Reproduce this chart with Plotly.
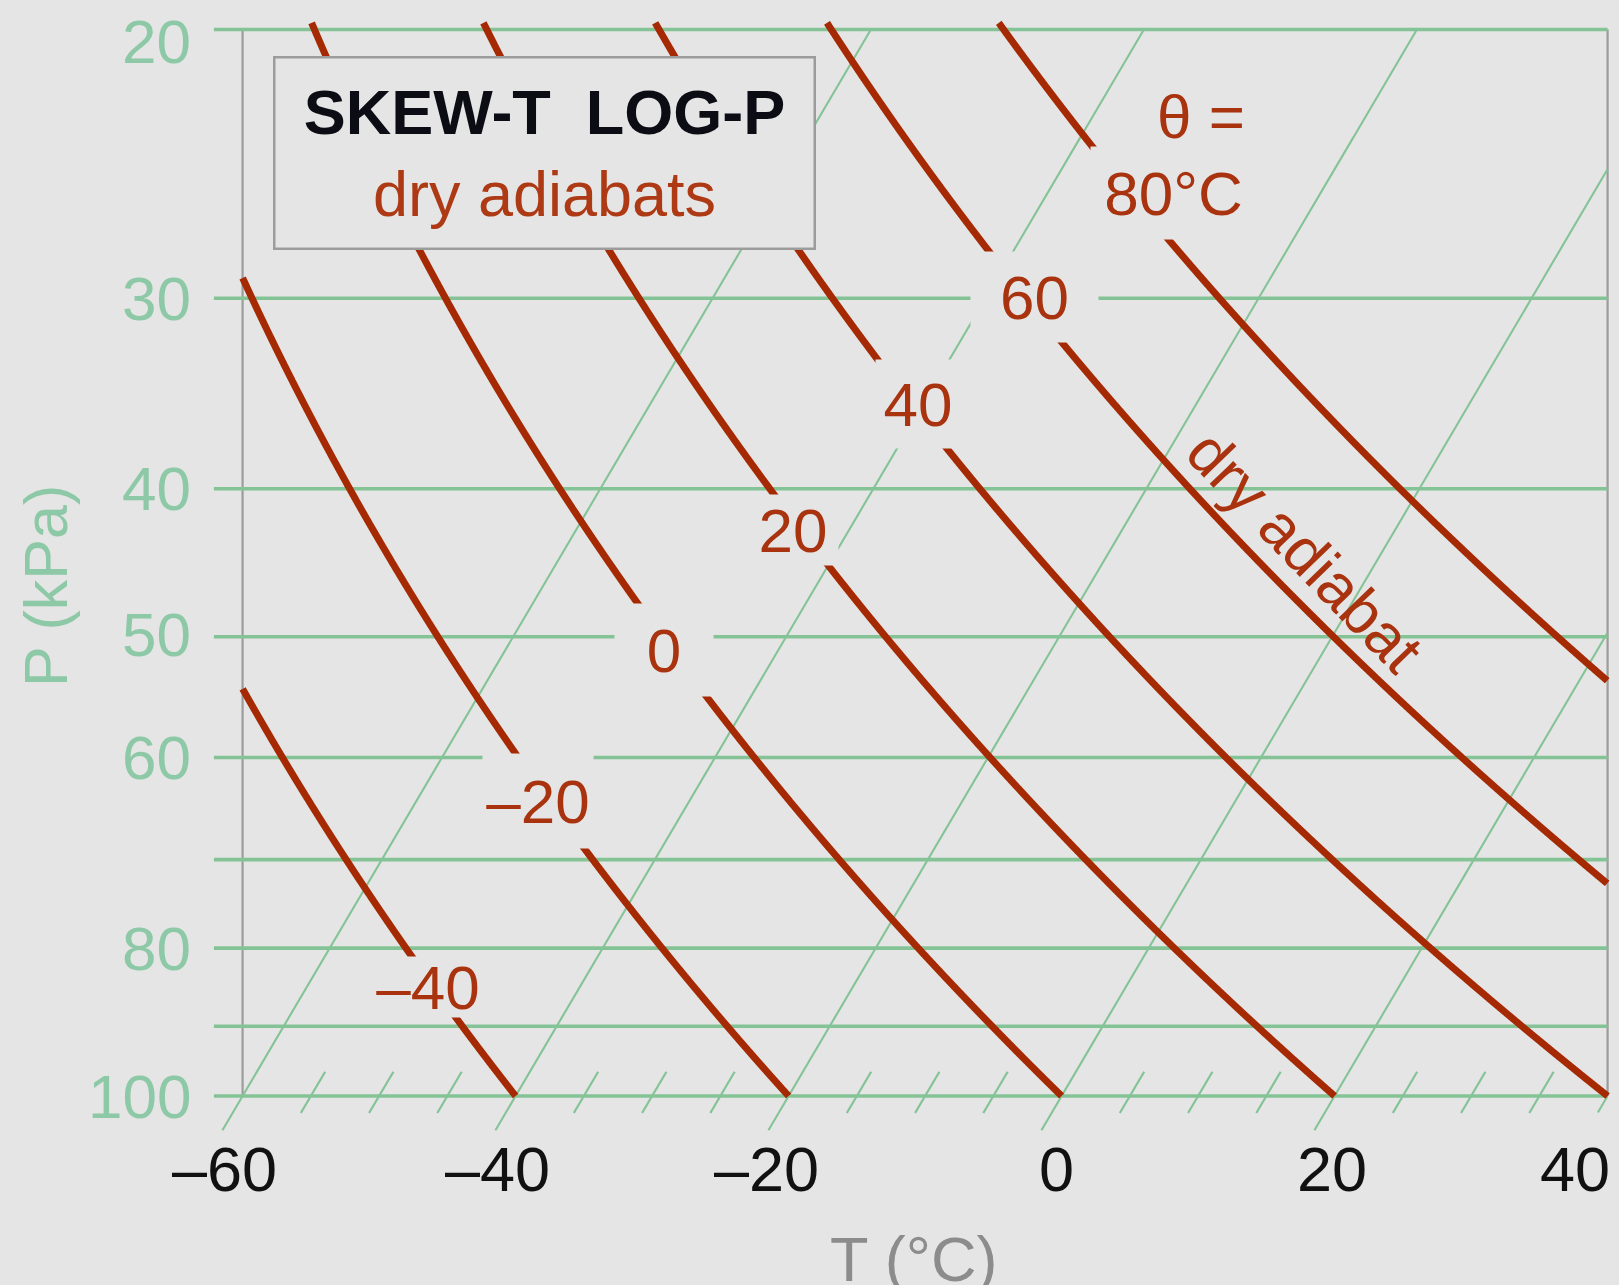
import numpy as np
import plotly.graph_objects as go

# ---------------- data ----------------
theta_C = [-40, -20, 0, 20, 40, 60, 80]                 # dry adiabats, potential temperature (°C)
label_theta = [-40, -20, 0, 20, 40, 60]                 # adiabats carrying an inline label
label_P = [84.3, 64.1, 51.0, 42.3, 35.2, 29.95]         # pressure (kPa) where the label sits
label_text = ["\u201340", "\u201320", "0", "20", "40", "60"]
isotherm_T = [-60, -40, -20, 0, 20, 40]                 # major isotherms (°C)
isotherm_base_P = [105.3, 105.3, 105.3, 105.3, 105.3, 102.6]
minor_T = [-55, -50, -45, -35, -30, -25, -15, -10, -5, 5, 10, 15, 25, 30, 35]
isobar_P = [20, 30, 40, 50, 60, 70, 80, 90, 100]        # kPa
P_ticks = [20, 30, 40, 50, 60, 80, 100]
P_tick_text = ["20", "30", "40", "50", "60", "80", "100"]
T_ticks = [-60, -40, -20, 0, 20, 40]
T_tick_text = ["\u201360", "\u201340", "\u201320", "0", "20", "40"]

# ---------------- diagram constants ----------------
P_TOP, P_BOT = 20.0, 100.0
T_LEFT, T_RIGHT = -60.0, 40.0
SKEW = 28.6          # °C of horizontal shift per unit ln(100/P)
KAPPA = 0.286
MINOR_P = (96.4, 102.6)

# ---------------- styles ----------------
BG = "#e5e5e5"
GREEN = "#84c396"
GREEN_TXT = "#8dc9a6"
BROWN = "#a52a04"
BROWN_TXT = "#a9330f"
FRAME = "#9c9c9c"
FONT = "Liberation Sans, Arial, Helvetica, sans-serif"
FS = 62

label_box_w = [116, 110, 98, 90, 84, 127]
label_box_h = [60, 94, 92, 70, 88, 90]
label_dx = [-3, -12, -7, -5, 6, 9]
label_dy = [-4, 0, 0, -4, 0, 0]
tick_xshift = [-18, -18, -22, -5, -3, -33]
ptick_yshift = [-12, 0, 0, 2, 0, 0, 0]


def skew_x(T, P):
    return np.asarray(T, dtype=float) + SKEW * np.log(100.0 / np.asarray(P, dtype=float))


def adiabat_T(theta, P):
    return (theta + 273.15) * (np.asarray(P, dtype=float) / 100.0) ** KAPPA - 273.15


fig = go.Figure()

# frame
for Tf in (T_LEFT, T_RIGHT):
    fig.add_trace(go.Scatter(x=[Tf, Tf], y=[P_TOP, P_BOT],
                             mode="lines", line=dict(color=FRAME, width=2.2), hoverinfo="skip"))

# minor temperature ticks at the base
for T in minor_T:
    P = np.array(MINOR_P)
    fig.add_trace(go.Scatter(x=skew_x(T, P), y=P, mode="lines",
                             line=dict(color=GREEN, width=2.2), hoverinfo="skip"))

# isotherms (skewed), clipped to the frame on the right
Pg = np.geomspace(P_TOP, 106.0, 1500)
for T, pb in zip(isotherm_T, isotherm_base_P):
    P = Pg[Pg <= pb]
    X = skew_x(T, P)
    m = X <= T_RIGHT + 1e-9
    fig.add_trace(go.Scatter(x=X[m], y=P[m], mode="lines",
                             line=dict(color=GREEN, width=2.1), hoverinfo="skip"))

# isobars
for p in isobar_P:
    fig.add_trace(go.Scatter(x=[-62.1, T_RIGHT], y=[p, p], mode="lines",
                             line=dict(color=GREEN, width=3.6), hoverinfo="skip"))

# dry adiabats
Pa = np.geomspace(19.8, P_BOT, 2500)
for th in theta_C:
    X = skew_x(adiabat_T(th, Pa), Pa)
    m = (X >= T_LEFT) & (X <= T_RIGHT + 1e-9)
    fig.add_trace(go.Scatter(x=X[m], y=Pa[m], mode="lines",
                             line=dict(color=BROWN, width=7, simplify=False), hoverinfo="skip"))

annotations = []
# inline adiabat labels (background knocks out the lines beneath)
for th, p, txt, w, h, dx, dy in zip(label_theta, label_P, label_text, label_box_w,
                                    label_box_h, label_dx, label_dy):
    xl = float(skew_x(adiabat_T(th, p), p))
    annotations.append(dict(x=xl, y=np.log10(p), xref="x", yref="y", text=txt,
                            showarrow=False, font=dict(family=FONT, size=FS, color=BROWN_TXT),
                            bgcolor=BG, width=w, height=h, borderpad=0, xshift=dx, yshift=dy,
                            xanchor="center", yanchor="middle"))

# theta = 80 °C label
annotations.append(dict(x=8.23, y=np.log10(25.6), xref="x", yref="y", text="80°C",
                        showarrow=False, font=dict(family=FONT, size=FS, color=BROWN_TXT),
                        bgcolor=BG, width=165, height=92, borderpad=0))
annotations.append(dict(x=10.21, y=np.log10(22.8), xref="x", yref="y", text="\u03b8 =",
                        showarrow=False, font=dict(family=FONT, size=FS, color=BROWN_TXT)))
# rotated "dry adiabat"
annotations.append(dict(x=17.83, y=np.log10(44.0), xref="x", yref="y", text="dry adiabat",
                        showarrow=False, textangle=46,
                        font=dict(family=FONT, size=FS, color=BROWN_TXT)))

# title box
annotations.append(dict(x=0.2365, y=0.8773, xref="paper", yref="paper",
                        text="<b>SKEW-T\u00a0\u00a0LOG-P</b><br><span style='color:#ad3a14'>dry adiabats</span>",
                        showarrow=False, align="center",
                        font=dict(family=FONT, size=FS + 1, color="#0c0c14"),
                        bgcolor=BG, bordercolor=FRAME, borderwidth=2.5, borderpad=0,
                        width=538, height=189, xanchor="center", yanchor="middle"))

# x tick labels (temperature at 100 kPa)
for T, txt, dx in zip(T_ticks, T_tick_text, tick_xshift):
    annotations.append(dict(x=T, y=-0.0258, xref="x", yref="paper", text=txt,
                            showarrow=False, xshift=dx, xanchor="center", yanchor="middle",
                            font=dict(family=FONT, size=FS + 1, color="#111111")))

# y tick labels (pressure)
for p, txt, dy in zip(P_ticks, P_tick_text, ptick_yshift):
    annotations.append(dict(x=0, y=np.log10(p), xref="paper", yref="y", text=txt,
                            showarrow=False, xshift=-20, yshift=dy,
                            xanchor="right", yanchor="middle",
                            font=dict(family=FONT, size=FS, color=GREEN_TXT)))

# axis titles
annotations.append(dict(x=0.5007, y=-0.0729, xref="paper", yref="paper", text="T (°C)",
                        showarrow=False, xanchor="center", yanchor="top",
                        font=dict(family=FONT, size=FS + 1, color="#8c8c8c")))
annotations.append(dict(x=-0.1193, y=0.4924, xref="paper", yref="paper", text="P (kPa)",
                        showarrow=False, textangle=-90, xanchor="center", yanchor="middle",
                        font=dict(family=FONT, size=FS - 1, color=GREEN_TXT)))

fig.update_layout(
    width=1619, height=1285,
    margin=dict(l=213, r=6, t=15, b=145),
    paper_bgcolor=BG, plot_bgcolor=BG,
    showlegend=False,
    annotations=annotations,
    xaxis=dict(range=[-62.168, 40.396], showgrid=False, zeroline=False,
               showticklabels=False, ticks="", showline=False, fixedrange=True),
    yaxis=dict(type="log", range=[2.02884, 1.29152], showgrid=False, zeroline=False,
               showline=False, ticks="", showticklabels=False, fixedrange=True),
)

fig.write_html("out.html", config={"displayModeBar": False},
               post_script="document.body.style.margin='0px';document.body.style.overflow='hidden';")
